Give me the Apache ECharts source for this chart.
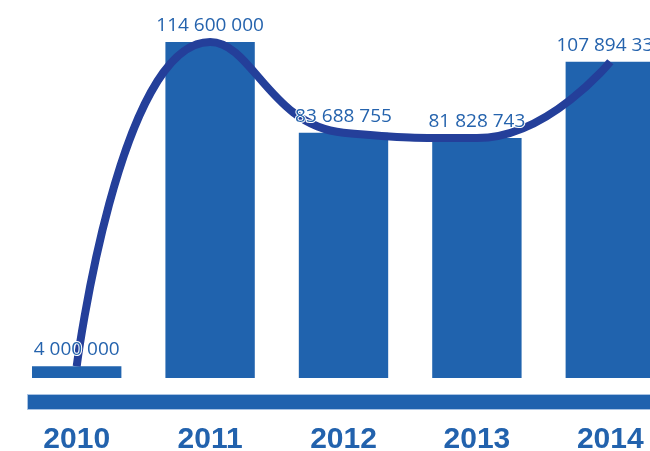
<!DOCTYPE html>
<html>
<head>
<meta charset="utf-8">
<script src="https://cdn.jsdelivr.net/npm/echarts@6/dist/echarts.min.js"></script>
<style>html,body{margin:0;padding:0;background:#fff;}#c{width:650px;height:451px;}</style>
</head>
<body>
<div id="c"></div>
<script>
var years = ['2010', '2011', '2012', '2013', '2014'];
var amounts = [4000000, 114600000, 83688755, 81828743, 107894332];

function fmt(v) {
  return String(v).replace(/\B(?=(\d{3})+(?!\d))/g, ' ');
}

var chart = echarts.init(document.getElementById('c'), null, {renderer: 'canvas'});
chart.setOption({
  animation: false,
  backgroundColor: '#ffffff',
  grid: {left: 10, width: 667, top: 26.2, height: 351.8, outerBoundsMode: 'none', containLabel: false},
  xAxis: {
    type: 'category',
    data: years,
    axisLine: {show: false},
    axisTick: {show: false},
    axisLabel: {
      margin: 47,
      fontFamily: 'Liberation Sans',
      fontWeight: 'bold',
      fontSize: 30,
      color: '#2262ad'
    }
  },
  yAxis: {
    type: 'value',
    min: 0,
    max: 120000000,
    show: false,
    splitLine: {show: false}
  },
  graphic: [{
    type: 'rect',
    left: 27,
    top: 394,
    shape: {width: 623, height: 15},
    style: {fill: '#2062ae', stroke: '#a9c3e3', lineWidth: 1},
    z: 0
  }],
  series: [
    {
      type: 'bar',
      data: amounts,
      barWidth: '67%',
      itemStyle: {color: '#2063ae'},
      z: 2
    },
    {
      type: 'line',
      data: amounts,
      smooth: 0.5,
      symbol: 'none',
      lineStyle: {color: '#243f9a', width: 8},
      z: 3
    },
    {
      type: 'bar',
      data: amounts,
      barWidth: '67%',
      barGap: '-100%',
      itemStyle: {color: 'rgba(0,0,0,0)'},
      z: 5,
      label: {
        show: true,
        position: 'top',
        distance: 7,
        fontFamily: 'Open Sans',
        fontSize: 19,
        color: '#2563ad',
        textBorderColor: '#ffffff',
        textBorderWidth: 2,
        formatter: function (p) { return fmt(p.value); }
      }
    }
  ]
});
</script>
</body>
</html>
